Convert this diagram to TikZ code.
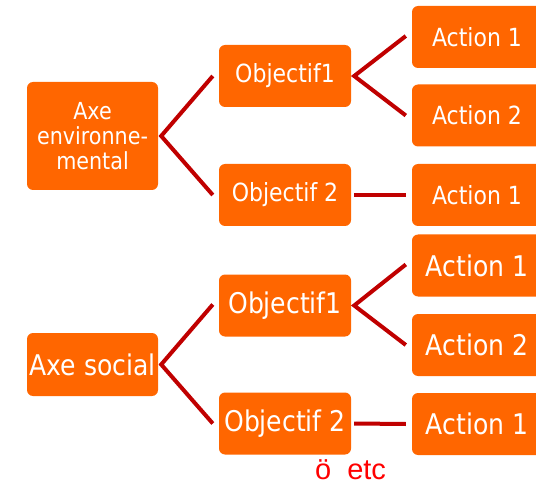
\documentclass[tikz,border=0pt]{standalone}
\usepackage{fontspec}
\setmainfont{DejaVu Sans}
\newfontfamily\tah[FakeStretch=0.88]{DejaVu Sans}
\newfontfamily\arl{Liberation Sans}
\definecolor{boxor}{HTML}{FF6600}
\definecolor{lnred}{HTML}{C00000}
\definecolor{etcred}{HTML}{FF0000}
\begin{document}
\begin{tikzpicture}[x=1pt,y=-1pt,
  box/.style={fill=boxor,rounded corners=6pt,text=white,inner sep=0pt,align=center},
  small/.style={box,font=\tah\fontsize{25}{26}\selectfont},
  big/.style={box,font=\tah\fontsize{28.5}{30}\selectfont},
  envf/.style={box,font=\tah\fontsize{23.5}{25}\selectfont},
  objb/.style={minimum width=132pt,minimum height=62pt},
  actb/.style={minimum width=130pt,minimum height=62pt},
  link/.style={draw=lnred,line width=4pt}]
\useasboundingbox (0,0) rectangle (536,484);
% top tree
\node[envf,minimum width=131pt,minimum height=108pt] (env) at (92.5,136) {Axe\\environne-\\mental};
\node[small,objb] (o1t) at (285,76) {Objectif1};
\node[small,objb] (o2t) at (285,195) {Objectif 2};
\node[small,actb] (a1t) at (477,37) {Action 1};
\node[small,actb] (a2t) at (477,115.5) {Action 2};
\node[small,actb] (a3t) at (477,195) {Action 1};
% bottom tree
\node[big,minimum width=131pt,minimum height=63pt] (soc) at (92.5,364.5) {Axe social};
\node[big,objb] (o1b) at (285,305.5) {Objectif1};
\node[big,objb] (o2b) at (285,423.5) {Objectif 2};
\node[big,actb] (a1b) at (477,265.5) {Action 1};
\node[big,actb] (a2b) at (477,345) {Action 2};
\node[big,actb] (a3b) at (477,424) {Action 1};
% connectors
\draw[link] ([xshift=-6pt]o1t.west) -- ([xshift=3pt]env.east) -- ([xshift=-6pt]o2t.west);
\draw[link] ([xshift=-6pt,yshift=1pt]a1t.west) -- ([xshift=3pt]o1t.east) -- ([xshift=-6pt]a2t.west);
\draw[link] ([xshift=3pt]o2t.east) -- ([xshift=-6pt]a3t.west);
\draw[link] ([xshift=-6pt,yshift=1pt]o1b.west) -- ([xshift=3pt]soc.east) -- ([xshift=-6pt]o2b.west);
\draw[link] ([xshift=-6pt,yshift=1pt]a1b.west) -- ([xshift=3pt]o1b.east) -- ([xshift=-6pt]a2b.west);
\draw[link] ([xshift=3pt]o2b.east) -- ([xshift=-6pt]a3b.west);
% note
\node[anchor=base west,inner sep=0pt,text=etcred,font=\arl\fontsize{29}{30}\selectfont] (etc) at (315,479) {ö\hspace{0.55em}etc};
\end{tikzpicture}
\end{document}
